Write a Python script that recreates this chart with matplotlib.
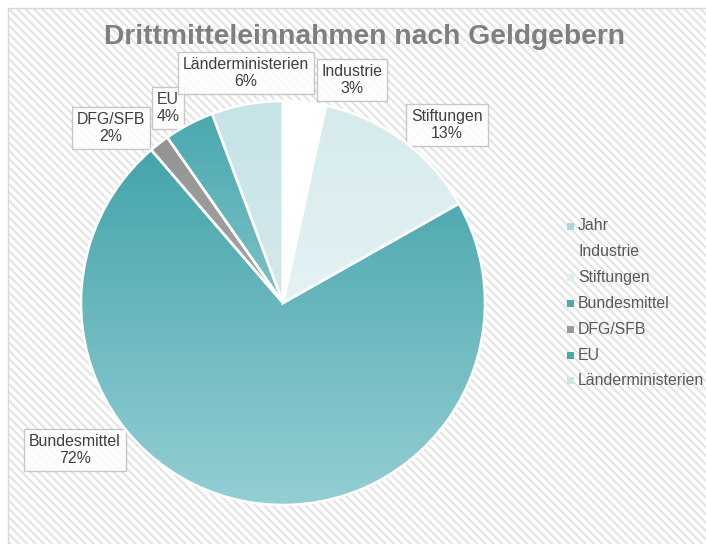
import numpy as np
import matplotlib
matplotlib.use("Agg")
import matplotlib.pyplot as plt
from matplotlib.patches import Rectangle
from matplotlib.colors import LinearSegmentedColormap

plt.rcParams['font.family'] = ['Liberation Sans', 'DejaVu Sans']
plt.rcParams['hatch.linewidth'] = 1.5

title = "Drittmitteleinnahmen nach Geldgebern"
categories = ["Jahr", "Industrie", "Stiftungen", "Bundesmittel", "DFG/SFB", "EU", "Länderministerien"]
values = [0.0, 3.4, 13.4, 71.8, 1.6, 4.0, 5.7]

# gradient (top, bottom) colours per slice
grad_colors = {
    "Jahr": ("#b9dfe3", "#d3ecee"),
    "Industrie": ("#ffffff", "#ffffff"),
    "Stiftungen": ("#d6ebed", "#e4f2f3"),
    "Bundesmittel": ("#44a4ab", "#95cfd4"),
    "DFG/SFB": ("#939393", "#a6a6a6"),
    "EU": ("#4aa8af", "#7cc2c7"),
    "Länderministerien": ("#c6e3e6", "#d4eaec"),
}
legend_colors = {
    "Jahr": "#a9d8dc",
    "Industrie": "#ffffff",
    "Stiftungen": "#d9eef0",
    "Bundesmittel": "#4aa8af",
    "DFG/SFB": "#9a9a9a",
    "EU": "#4aa8af",
    "Länderministerien": "#c9e5e8",
}
label_pos = {
    "Industrie": (352, 80),
    "Stiftungen": (447, 125),
    "Bundesmittel": (75, 450),
    "DFG/SFB": (111, 128),
    "EU": (168, 108),
    "Länderministerien": (246, 73),
}

W, H = 706, 544
fig = plt.figure(figsize=(W / 100, H / 100), dpi=100)
fig.patch.set_facecolor('white')

# hatched chart background
bg = fig.add_axes([0, 0, 1, 1])
bg.set_xlim(0, W)
bg.set_ylim(H, 0)
bg.axis('off')
bg.add_patch(Rectangle((7.5, 7.5), W + 10, H + 10, facecolor='white',
                       edgecolor='#e4e4e4', linewidth=0, hatch='\\\\\\\\', zorder=0))
bg.add_patch(Rectangle((7.5, 7.5), W + 10, H + 10, facecolor='none',
                       edgecolor='#d9d9d9', linewidth=1.0, zorder=1))

cx, cy, r = 283, 303, 202
ax = fig.add_axes([(cx - r) / W, (H - cy - r) / H, 2 * r / W, 2 * r / H])
ax.set_facecolor('none')
wedges, _ = ax.pie(values, startangle=90, counterclock=False, radius=1.0,
                   wedgeprops=dict(edgecolor='white', linewidth=1.8))
ax.set_xlim(-1, 1)
ax.set_ylim(-1, 1)
ax.set_aspect('equal')
ax.axis('off')

for w, cat in zip(wedges, categories):
    if w.theta2 - w.theta1 <= 0:
        continue
    top, bot = grad_colors[cat]
    cmap = LinearSegmentedColormap.from_list(cat, [bot, top])
    path = w.get_path()
    verts = w.get_transform().transform(path.vertices)
    verts = ax.transData.inverted().transform(verts)
    ymin, ymax = verts[:, 1].min(), verts[:, 1].max()
    xmin, xmax = verts[:, 0].min(), verts[:, 0].max()
    grad = np.linspace(0, 1, 256).reshape(-1, 1)
    im = ax.imshow(grad, cmap=cmap, origin='lower', aspect='auto',
                   extent=[xmin, xmax, ymin, ymax], zorder=w.get_zorder() - 0.1,
                   interpolation='bilinear')
    im.set_clip_path(w)
    w.set_facecolor('none')

ax.set_xlim(-1, 1)
ax.set_ylim(-1, 1)

total = sum(values)
for cat, v in zip(categories, values):
    if v <= 0:
        continue
    px, py = label_pos[cat]
    bg.text(px, py, f"{cat}\n{v / total * 100:.0f}%", ha='center', va='center',
            fontsize=11.4, color='#404040', linespacing=1.15, zorder=5,
            bbox=dict(boxstyle='square,pad=0.3', facecolor='white', alpha=0.85,
                      edgecolor='#bfbfbf', linewidth=1.0))

bg.text(365, 37, title, ha='center', va='center', fontsize=20.3,
        fontweight='bold', color='#7f7f7f', zorder=5)

# legend
ly0, dy = 226, 25.8
for i, cat in enumerate(categories):
    y = ly0 + i * dy
    if cat != "Industrie":
        bg.add_patch(Rectangle((567, y - 3.5), 7, 7, facecolor=legend_colors[cat],
                               edgecolor='none', zorder=5))
    bg.text(578, y, cat, ha='left', va='center', fontsize=11.4,
            color='#595959', zorder=5)

fig.savefig('out.png', dpi=100, facecolor='white')
